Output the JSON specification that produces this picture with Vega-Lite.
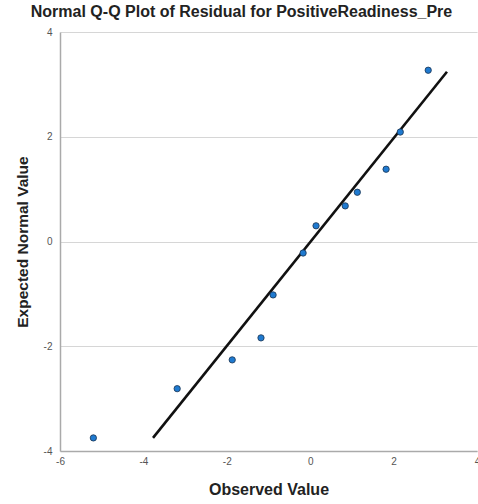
{
  "$schema": "https://vega.github.io/schema/vega-lite/v6.json",
  "autosize": {"type": "none"},
  "width": 417,
  "height": 419,
  "padding": {"left": 60, "top": 32, "right": 1, "bottom": 53},
  "background": "white",
  "config": {
    "view": {"stroke": null},
    "font": "Liberation Sans"
  },
  "title": {
    "text": "Normal Q-Q Plot of Residual for PositiveReadiness_Pre",
    "fontSize": 16,
    "fontWeight": "bold",
    "color": "#222222",
    "anchor": "middle",
    "dx": -27,
    "offset": 7
  },
  "datasets": {
    "pts": [
      {"observed": -5.20, "expected": -3.75},
      {"observed": -3.19, "expected": -2.81},
      {"observed": -1.87, "expected": -2.26},
      {"observed": -1.18, "expected": -1.84},
      {"observed": -0.89, "expected": -1.02},
      {"observed": -0.17, "expected": -0.22},
      {"observed": 0.14, "expected": 0.30},
      {"observed": 0.84, "expected": 0.68},
      {"observed": 1.13, "expected": 0.94},
      {"observed": 1.82, "expected": 1.38},
      {"observed": 2.16, "expected": 2.09},
      {"observed": 2.83, "expected": 3.27}
    ],
    "ref": [
      {"observed": -3.77, "expected": -3.75},
      {"observed": 3.28, "expected": 3.24}
    ]
  },
  "layer": [
    {
      "data": {"name": "ref"},
      "mark": {"type": "line", "color": "#111111", "strokeWidth": 2.6},
      "encoding": {
        "x": {"field": "observed", "type": "quantitative"},
        "y": {"field": "expected", "type": "quantitative"}
      }
    },
    {
      "data": {"name": "pts"},
      "mark": {"type": "point", "filled": true, "fill": "#1f7ad0", "stroke": "#1b3450", "strokeWidth": 0.8, "size": 40, "opacity": 1},
      "encoding": {
        "x": {
          "field": "observed", "type": "quantitative",
          "scale": {"domain": [-6, 4], "nice": false, "zero": false},
          "axis": {
            "title": "Observed Value", "values": [-6, -4, -2, 0, 2, 4],
            "labelExpr": "replace(datum.label, '−', '-')",
            "grid": false, "ticks": false,
            "domainColor": "#aaaaaa", "domainWidth": 1.5,
            "labelColor": "#555555", "labelFontSize": 10, "labelPadding": 5,
            "labelFlush": false,
            "titleFontSize": 16, "titleFontWeight": "bold", "titleColor": "#222222", "titlePadding": 15
          }
        },
        "y": {
          "field": "expected", "type": "quantitative",
          "scale": {"domain": [-4, 4], "nice": false, "zero": false},
          "axis": {
            "title": "Expected Normal Value", "values": [-4, -2, 0, 2, 4],
            "labelExpr": "replace(datum.label, '−', '-')",
            "grid": true, "gridColor": "#d6d6d6", "gridWidth": 1.2,
            "ticks": false,
            "domainColor": "#aaaaaa", "domainWidth": 1.5,
            "labelColor": "#555555", "labelFontSize": 10, "labelPadding": 8,
            "labelFlush": false,
            "titleFontSize": 15.5, "titleFontWeight": "bold", "titleColor": "#222222", "titlePadding": 13
          }
        }
      }
    }
  ]
}
